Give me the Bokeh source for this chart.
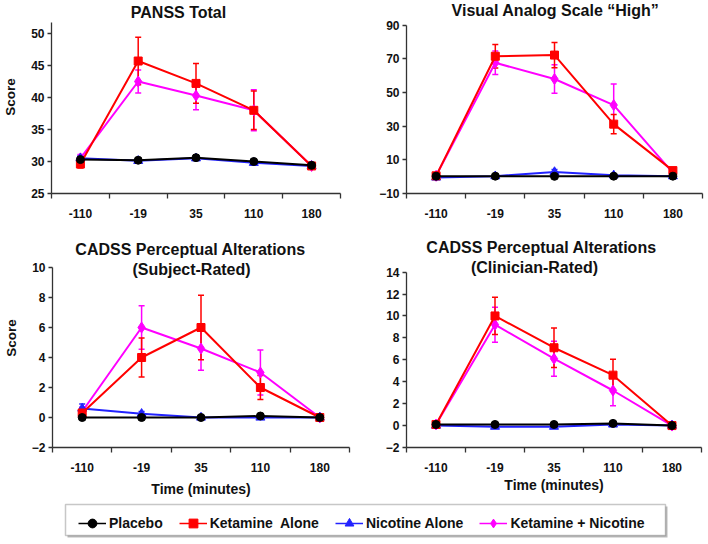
from bokeh.plotting import figure
from bokeh.models import (Range1d, FixedTicker, Whisker, TeeHead, ColumnDataSource,
                          Label, Legend, LegendItem, BoxAnnotation)
from bokeh.layouts import column, row
from bokeh.embed import file_html
from bokeh.resources import INLINE

# ---------------- data ----------------
times = ["-110", "-19", "35", "110", "180"]
series_names = ["Placebo", "Ketamine  Alone", "Nicotine Alone", "Ketamine + Nicotine"]

# PANSS Total
panss_placebo = [30.3, 30.2, 30.6, 30.0, 29.4]
panss_ketamine = [29.6, 45.7, 42.2, 38.0, 29.3]
panss_nicotine = [30.5, 30.1, 30.5, 29.8, 29.3]
panss_ket_nic = [30.5, 42.5, 40.3, 38.0, 29.3]
panss_placebo_err = [0.4, 0.4, 0.4, 0.3, 0.2]
panss_ketamine_err = [0.6, 3.7, 3.1, 3.0, 0.3]
panss_nicotine_err = [0.4, 0.3, 0.3, 0.3, 0.2]
panss_ket_nic_err = [0.6, 1.8, 2.2, 3.2, 0.3]

# Visual Analog Scale "High"
vas_placebo = [0.3, 0.3, 0.2, 0.3, 0.3]
vas_ketamine = [0.5, 71.5, 72.2, 31.2, 3.6]
vas_nicotine = [-0.5, 0.3, 2.8, 0.8, 0.3]
vas_ket_nic = [0.5, 67.6, 58.0, 42.5, 2.3]
vas_placebo_err = [0.3, 0.3, 0.3, 0.3, 0.3]
vas_ketamine_err = [0.5, 7.0, 7.5, 5.7, 1.0]
vas_nicotine_err = [0.5, 0.5, 1.5, 0.5, 0.3]
vas_ket_nic_err = [0.5, 7.0, 8.5, 12.5, 1.0]

# CADSS Perceptual Alterations (Subject-Rated)
cs_placebo = [0.0, 0.0, 0.0, 0.1, 0.0]
cs_ketamine = [0.3, 4.0, 6.0, 2.0, 0.0]
cs_nicotine = [0.6, 0.25, 0.0, 0.0, 0.0]
cs_ket_nic = [0.4, 6.0, 4.6, 3.0, 0.0]
cs_placebo_err = [0.0, 0.0, 0.0, 0.1, 0.0]
cs_ketamine_err = [0.3, 1.3, 2.15, 0.8, 0.0]
cs_nicotine_err = [0.3, 0.15, 0.0, 0.0, 0.0]
cs_ket_nic_err = [0.3, 1.45, 1.45, 1.5, 0.0]

# CADSS Perceptual Alterations (Clinician-Rated)
cc_placebo = [0.1, 0.1, 0.1, 0.2, 0.0]
cc_ketamine = [0.1, 10.0, 7.1, 4.6, 0.0]
cc_nicotine = [0.0, -0.1, -0.1, 0.1, 0.0]
cc_ket_nic = [0.1, 9.2, 6.1, 3.2, 0.0]
cc_placebo_err = [0.1, 0.1, 0.1, 0.1, 0.1]
cc_ketamine_err = [0.1, 1.7, 1.8, 1.45, 0.1]
cc_nicotine_err = [0.1, 0.1, 0.1, 0.1, 0.1]
cc_ket_nic_err = [0.1, 1.6, 1.6, 1.4, 0.1]

panss_ticks = [25, 30, 35, 40, 45, 50]
vas_ticks = [-10, 10, 30, 50, 70, 90]
cs_ticks = [-2, 0, 2, 4, 6, 8, 10]
cc_ticks = [-2, 0, 2, 4, 6, 8, 10, 12, 14]

# ---------------- style ----------------
FONT = "Liberation Sans"
AXIS_COLOR = "#333333"
STYLES = [  # drawing order: ket+nic, nicotine, ketamine, placebo
    (3, "#ff00ff", "diamond", 11),
    (2, "#2222ff", "triangle", 9),
    (1, "#ff0000", "square", 8),
    (0, "#000000", "circle", 8),
]

xpos = [i + 1 for i in range(len(times))]


def panel(width, height, fl, fr, ft, fb, yr, yticks, means, errs, titles,
          ylabel=None, xlabel=None, xlabel_standoff=6):
    # the frame reaches the top of the canvas so titles can sit inside it;
    # the visible y axis is bounded to the data scale range
    y_end = yr[1] + ft * (yr[1] - yr[0]) / (fb - ft)
    p = figure(width=width, height=height, output_backend="svg", toolbar_location=None,
               x_range=Range1d(0.5, len(times) + 0.5), y_range=Range1d(yr[0], y_end),
               min_border_left=fl, min_border_right=width - fr,
               min_border_top=0, min_border_bottom=height - fb)
    p.outline_line_color = None
    p.grid.visible = False
    p.background_fill_color = "white"

    for idx, color, marker, size in STYLES:
        y = means[idx]
        e = errs[idx]
        src = ColumnDataSource(dict(x=xpos, y=y,
                                    upper=[a + b for a, b in zip(y, e)],
                                    lower=[a - b for a, b in zip(y, e)]))
        w = Whisker(base="x", upper="upper", lower="lower", source=src,
                    line_color=color, line_width=1.5,
                    upper_head=TeeHead(size=6, line_color=color, line_width=1.5),
                    lower_head=TeeHead(size=6, line_color=color, line_width=1.5))
        p.add_layout(w)
        p.line("x", "y", source=src, line_color=color, line_width=2)
        p.scatter("x", "y", source=src, marker=marker, size=size,
                  fill_color=color, line_color=color)

    xa = p.xaxis[0]
    xa.ticker = FixedTicker(ticks=xpos, minor_ticks=[x - 0.5 for x in xpos] + [xpos[-1] + 0.5])
    xa.major_label_overrides = {x: t for x, t in zip(xpos, times)}
    xa.major_tick_out = 0
    xa.major_tick_in = 0
    xa.minor_tick_out = 5
    xa.minor_tick_in = 0
    xa.minor_tick_line_color = AXIS_COLOR
    xa.minor_tick_line_width = 1.3
    xa.major_label_standoff = 10
    xa.major_label_text_font = FONT
    xa.major_label_text_font_style = "bold"
    xa.major_label_text_font_size = "12px"
    xa.major_label_text_color = "#111111"
    xa.axis_line_color = AXIS_COLOR
    xa.axis_line_width = 1.3
    if xlabel:
        xa.axis_label = xlabel
        xa.axis_label_text_font = FONT
        xa.axis_label_text_font_style = "bold"
        xa.axis_label_text_font_size = "14px"
        xa.axis_label_text_color = "#111111"
        xa.axis_label_standoff = xlabel_standoff

    ya = p.yaxis[0]
    ya.ticker = FixedTicker(ticks=yticks)
    ya.bounds = (yr[0], yr[1])
    ya.major_tick_out = 4
    ya.major_tick_in = 0
    ya.major_tick_line_color = AXIS_COLOR
    ya.major_tick_line_width = 1.3
    ya.minor_tick_line_color = None
    ya.major_label_standoff = 3
    ya.major_label_text_font = FONT
    ya.major_label_text_font_style = "bold"
    ya.major_label_text_font_size = "12px"
    ya.major_label_text_color = "#111111"
    ya.axis_line_color = AXIS_COLOR
    ya.axis_line_width = 1.3
    if ylabel:
        ya.axis_label = ylabel
        ya.axis_label_text_font = FONT
        ya.axis_label_text_font_style = "bold"
        ya.axis_label_text_font_size = "13.5px"
        ya.axis_label_text_color = "#111111"
        ya.axis_label_standoff = 10

    for text, cx, cy in titles:
        p.add_layout(Label(x=cx - fl, y=fb - cy, x_units="screen", y_units="screen",
                           text=text, text_align="center", text_baseline="middle",
                           text_font=FONT, text_font_style="bold",
                           text_font_size="16px", text_color="#111111"))
    return p


tl = panel(354, 228, 49, 340, 22, 193, (25, 25 + 171 / 6.4), panss_ticks,
           [panss_placebo, panss_ketamine, panss_nicotine, panss_ket_nic],
           [panss_placebo_err, panss_ketamine_err, panss_nicotine_err, panss_ket_nic_err],
           [("PANSS Total", 176, 12)], ylabel="Score")

tr = panel(354, 228, 52, 348, 25, 196, (-10, 90), vas_ticks,
           [vas_placebo, vas_ketamine, vas_nicotine, vas_ket_nic],
           [vas_placebo_err, vas_ketamine_err, vas_nicotine_err, vas_ket_nic_err],
           [("Visual Analog Scale \u201cHigh\u201d", 201, 13)])

bl = panel(354, 273, 49, 349, 39, 219, (-2, 10), cs_ticks,
           [cs_placebo, cs_ketamine, cs_nicotine, cs_ket_nic],
           [cs_placebo_err, cs_ketamine_err, cs_nicotine_err, cs_ket_nic_err],
           [("CADSS Perceptual Alterations", 187, 21), ("(Subject-Rated)", 188, 41)],
           ylabel="Score", xlabel="Time (minutes)", xlabel_standoff=6)

br = panel(354, 273, 52, 347, 44, 221, (-2, 14), cc_ticks,
           [cc_placebo, cc_ketamine, cc_nicotine, cc_ket_nic],
           [cc_placebo_err, cc_ketamine_err, cc_nicotine_err, cc_ket_nic_err],
           [("CADSS Perceptual Alterations", 187, 21), ("(Clinician-Rated)", 180, 41)],
           xlabel="Time (minutes)", xlabel_standoff=2)

# ---------------- legend strip ----------------
leg = figure(width=708, height=41, output_backend="svg", toolbar_location=None,
             x_range=Range1d(0, 1), y_range=Range1d(0, 1),
             x_axis_type=None, y_axis_type=None,
             min_border_left=0, min_border_right=0, min_border_top=0, min_border_bottom=0)
leg.outline_line_color = None
leg.grid.visible = False

leg.add_layout(BoxAnnotation(left=67, right=667, bottom=5, top=36,
                             left_units="screen", right_units="screen",
                             bottom_units="screen", top_units="screen",
                             fill_color="#bbbbbb", fill_alpha=1.0, line_color=None))
leg.add_layout(BoxAnnotation(left=65, right=665, bottom=7, top=38,
                             left_units="screen", right_units="screen",
                             bottom_units="screen", top_units="screen",
                             fill_color="white", fill_alpha=1.0,
                             line_color="#444444", line_width=1.5))

style_by_idx = {idx: (color, marker, size) for idx, color, marker, size in STYLES}
items = []
for idx, name in enumerate(series_names):
    color, marker, size = style_by_idx[idx]
    lr = leg.line(xpos, panss_placebo, line_color=color, line_width=1.5, visible=False)
    sr = leg.scatter(xpos, panss_placebo, marker=marker, fill_color=color,
                     line_color=color, visible=False)
    items.append(LegendItem(label=name, renderers=[lr, sr]))

legend = Legend(items=items, orientation="horizontal", location=(78, 8),
                glyph_width=28, glyph_height=22, label_standoff=3, spacing=16,
                padding=4, margin=0, border_line_color=None, background_fill_alpha=0,
                label_text_font=FONT, label_text_font_style="bold",
                label_text_font_size="14px", label_text_color="#111111")
leg.add_layout(legend, "center")

layout = column(row(tl, tr), row(bl, br), leg)

with open("out.html", "w") as f:
    f.write(file_html(layout, INLINE))
